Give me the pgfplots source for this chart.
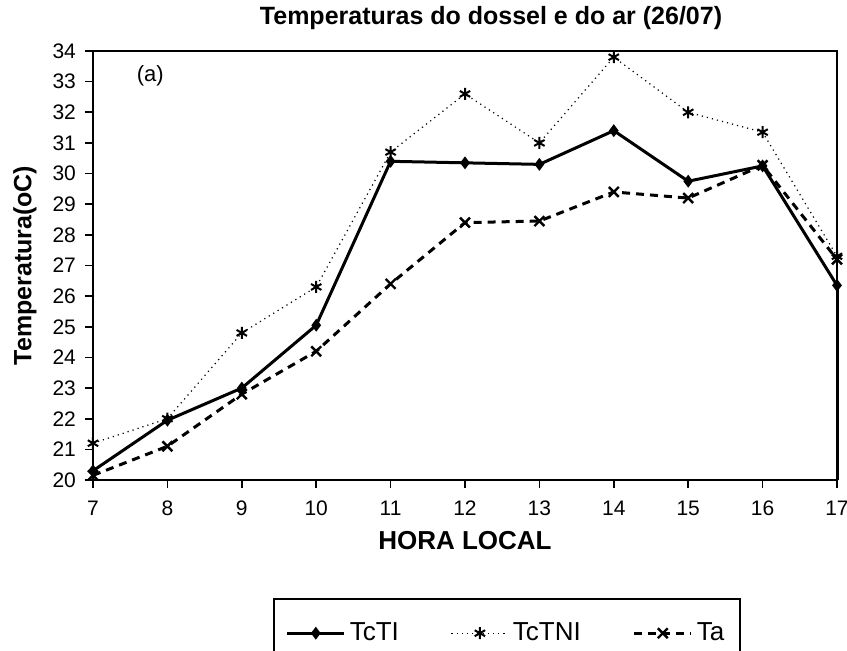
\documentclass[border=0pt]{standalone}
\usepackage{pgfplots}
\pgfplotsset{compat=1.18}
\usepackage{fontspec}
\setmainfont{Liberation Sans}
\begin{document}
\begin{tikzpicture}
% page = 847x651 px at 0.5pt per px
\path[use as bounding box] (-46.5pt,-85.5pt) rectangle (377pt,240pt);
\begin{axis}[
    at={(0,0)}, anchor=south west,
    scale only axis,
    width=372pt, height=214.5pt,
    xmin=7, xmax=17, ymin=20, ymax=34,
    xtick={7,...,17}, ytick={20,...,34},
    xtick pos=left, ytick pos=left,
    tick align=outside,
    major tick length=4pt,
    axis line style={line width=1pt},
    every tick/.style={black, line width=0.8pt},
    /pgf/number format/assume math mode=true,
    tick label style={font=\fontsize{10.5}{12}\selectfont},
    yticklabel style={xshift=-1pt},
    xticklabel style={yshift=-3pt},
    title={\textbf{Temperaturas do dossel e do ar (26/07)}},
    title style={at={(axis description cs:0.535,1.049)}, anchor=center, font=\fontsize{12.5}{14}\selectfont},
    xlabel={\textbf{HORA LOCAL}},
    every axis x label/.style={at={(axis description cs:0.5,-0.14)}, anchor=center, font=\fontsize{13}{15}\selectfont},
    ylabel={\textbf{Temperatura(oC)}},
    every axis y label/.style={at={(axis description cs:-0.0914,0.5)}, rotate=90, anchor=center, font=\fontsize{12.5}{14}\selectfont},
    clip=false,
    legend columns=3,
    legend style={at={(axis description cs:0.242,-0.275)}, anchor=north west,
        draw=black, line width=0.8pt, inner xsep=6pt, inner ysep=10pt,
        font=\fontsize{13}{15}\selectfont,
        /tikz/every even column/.append style={column sep=24pt}},
    legend image code/.code={\draw[mark repeat=2,mark phase=2] plot coordinates {(0cm,0cm)(0.5cm,0cm)(1cm,0cm)};},
]
\addplot[black, line width=1.5pt, mark=diamond*, mark size=2pt, mark options={solid}]
    coordinates {(7,20.3)(8,21.95)(9,23.0)(10,25.05)(11,30.4)(12,30.35)(13,30.3)(14,31.4)(15,29.75)(16,30.25)(17,26.35)};
\addplot[black, line width=0.6pt, dotted, mark=asterisk, mark size=3pt, mark options={solid, line width=1pt}]
    coordinates {(7,21.2)(8,22.0)(9,24.8)(10,26.3)(11,30.7)(12,32.6)(13,31.0)(14,33.8)(15,32.0)(16,31.35)(17,27.3)};
\addplot[black, line width=1.5pt, dash pattern=on 4pt off 3pt, mark=x, mark size=3.5pt, mark options={solid, line width=1.2pt}]
    coordinates {(7,20.15)(8,21.1)(9,22.8)(10,24.2)(11,26.4)(12,28.4)(13,28.45)(14,29.4)(15,29.2)(16,30.27)(17,27.2)};
\legend{TcTI, TcTNI, Ta\hspace{28pt}}
\node at (axis cs:7.77,33.2) {\fontsize{11}{12}\selectfont (a)};
\draw[line width=1.5pt] (axis cs:17,20) -- (axis cs:17,26.35);
\end{axis}
\end{tikzpicture}
\end{document}
